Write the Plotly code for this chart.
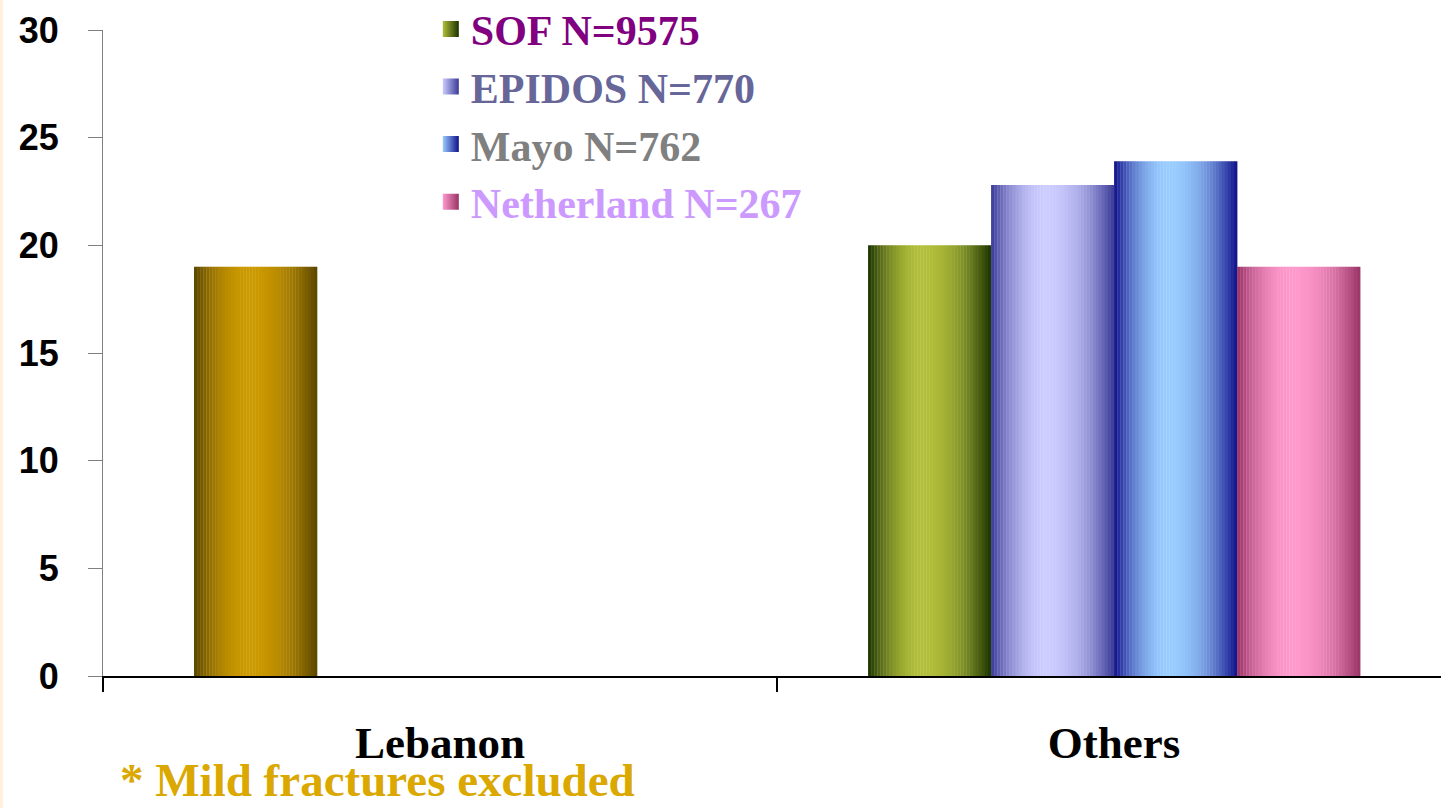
import plotly.graph_objects as go

categories = ["Lebanon", "Others"]
series_names = ["SOF N=9575", "EPIDOS N=770", "Mayo N=762", "Netherland N=267"]
series_values = [
    [19, 20],
    [None, 22.8],
    [None, 23.9],
    [None, 19],
]
legend_text_colors = ["#800080", "#666699", "#808080", "#CC99FF"]
# (dark edge, bright centre) per series; Lebanon point overridden with gold
series_grad = [
    ("#1A3300", "#B2BF3A"),
    ("#3A3A96", "#CCCCFF"),
    ("#10108A", "#99CCFF"),
    ("#993366", "#FF99CC"),
]
lebanon_grad = ("#5A4600", "#CC9900")
y_ticks = [0, 5, 10, 15, 20, 25, 30]
footnote = "* Mild fractures excluded"

N = 40
BARGAP = 0.27
G = 1 - BARGAP
W = G / len(series_names)


def hex2rgb(h):
    h = h.lstrip("#")
    return tuple(int(h[i:i + 2], 16) for i in (0, 2, 4))


def mix(c1, c2, f):
    a, b = hex2rgb(c1), hex2rgb(c2)
    return "rgb(%d,%d,%d)" % tuple(round(a[i] + (b[i] - a[i]) * f) for i in range(3))


def shade(t, c=0.45):
    d = (t - c) / c if t < c else (t - c) / (1 - c)
    return max(0.0, 1 - d * d)


fig = go.Figure()
for i, (name, vals) in enumerate(zip(series_names, series_values)):
    dark, bright = series_grad[i]
    for k in range(N):
        t = (k + 0.5) / N
        f = shade(t)
        cols = []
        for j, cat in enumerate(categories):
            if i == 0 and cat == "Lebanon":
                cols.append(mix(lebanon_grad[0], lebanon_grad[1], f))
            else:
                cols.append(mix(dark, bright, f))
        fig.add_trace(go.Bar(
            x=categories, y=vals,
            width=W / N * 1.1,
            offset=-G / 2 + i * W + k * W / N,
            marker=dict(color=cols, line=dict(width=0)),
            showlegend=False, legendgroup=name, hoverinfo="skip",
        ))
    # legend entry
    fig.add_trace(go.Scatter(
        x=[None], y=[None], mode="markers",
        name='<span style="color:%s">%s</span>' % (legend_text_colors[i], name),
        legendgroup=name,
        marker=dict(symbol="square", size=16, color=bright,
                    line=dict(width=0),
                    gradient=dict(type="horizontal", color=dark)),
    ))

fig.update_layout(
    width=1441, height=808,
    margin=dict(l=103, r=0, t=30, b=132, autoexpand=False),
    paper_bgcolor="white", plot_bgcolor="white",
    barmode="overlay",
    showlegend=True,
    legend=dict(
        x=0.245, xanchor="left", y=1.054, yanchor="top",
        bgcolor="rgba(0,0,0,0)",
        font=dict(family="Liberation Serif", size=42, weight="bold"),
        tracegroupgap=0,
        itemclick=False, itemdoubleclick=False,
    ),
    xaxis=dict(
        type="category", range=[-0.5, 1.485],
        showline=True, linecolor="black", linewidth=1.5,
        ticks="outside", tickson="boundaries", ticklen=14, tickcolor="black", tickwidth=1.5,
        tickfont=dict(family="Liberation Serif", size=45, weight="bold", color="black"),
        ticklabelstandoff=26,
        showgrid=False, zeroline=False, fixedrange=True,
    ),
    yaxis=dict(
        range=[0, 30], tickvals=y_ticks,
        showline=True, linecolor="#808080", linewidth=1,
        ticks="outside", ticklen=14, tickcolor="#808080",
        tickfont=dict(family="Liberation Sans", size=36, weight="bold", color="black"),
        ticklabelstandoff=22,
        showgrid=False, zeroline=False, fixedrange=True,
    ),
    annotations=[dict(
        text=footnote, xref="paper", yref="paper",
        x=(118 - 103) / 1338, y=-(780 - 676) / 646,
        xanchor="left", yanchor="middle", showarrow=False,
        font=dict(family="Liberation Serif", size=47, weight="bold", color="#DAA800"),
    )],
    shapes=[dict(
        type="rect", xref="paper", yref="paper",
        x0=-103 / 1338, x1=-100 / 1338, y0=-132 / 646, y1=(646 + 30) / 646,
        fillcolor="#FFF1DC", line=dict(width=0), layer="below",
    )],
)

fig.write_html(
    "out.html",
    config={"displayModeBar": False},
    post_script="document.body.style.margin='0';document.body.style.overflow='hidden';",
)
